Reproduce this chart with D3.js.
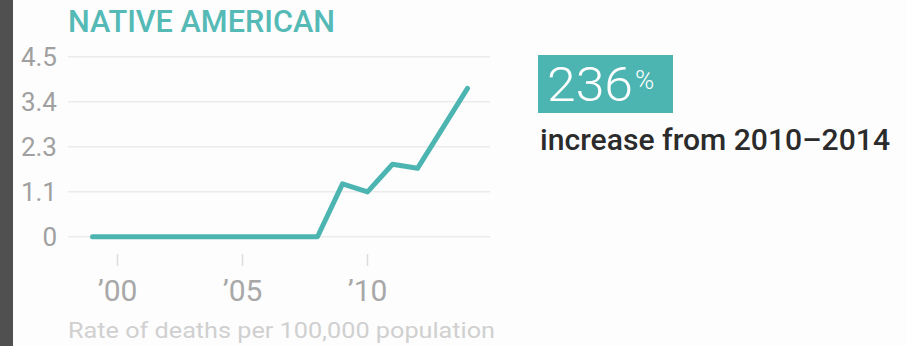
<!DOCTYPE html>
<html>
<head>
<meta charset="utf-8">
<script src="https://cdn.jsdelivr.net/npm/d3@7"></script>
<style>
  html, body { margin: 0; padding: 0; background: #fdfdfd; }
  svg { display: block; }
</style>
</head>
<body>
<svg id="chart" width="907" height="346"></svg>
<script>
// ---- data ----
const years = [1999, 2000, 2001, 2002, 2003, 2004, 2005, 2006, 2007, 2008, 2009, 2010, 2011, 2012, 2013, 2014];
const rates = [0, 0, 0, 0, 0, 0, 0, 0, 0, 0, 1.32, 1.12, 1.81, 1.71, 2.71, 3.71];
const yTickValues = [0, 1.125, 2.25, 3.375, 4.5];
const yTickLabels = ["0", "1.1", "2.3", "3.4", "4.5"];
const xTickValues = [2000, 2005, 2010];
const xTickLabels = ["\u201900", "\u201905", "\u201910"];
const title = "NATIVE AMERICAN";
const subtitle = "Rate of deaths per 100,000 population";
const bigNumber = "236";
const bigUnit = "%";
const bigCaption = "increase from 2010\u20132014";

const teal = "#4db5b1";
const svg = d3.select("#chart");

// background + left dark strip
svg.append("rect").attr("x", 0).attr("y", 0).attr("width", 907).attr("height", 346).attr("fill", "#fdfdfd");
svg.append("rect").attr("x", 0).attr("y", 0).attr("width", 13).attr("height", 346).attr("fill", "#505050");

const x = d3.scaleLinear().domain([1999, 2014]).range([92.5, 467.5]);
const y = d3.scaleLinear().domain([0, 4.5]).range([236.7, 56.7]);

// gridlines
svg.append("g").selectAll("line").data(yTickValues).join("line")
  .attr("x1", 68).attr("x2", 490)
  .attr("y1", d => y(d)).attr("y2", d => y(d))
  .attr("stroke", "#ebebeb").attr("stroke-width", 1.5);

// y labels
svg.append("g").selectAll("text").data(yTickValues).join("text")
  .attr("x", 57).attr("y", d => y(d)).attr("dy", "0.35em")
  .attr("text-anchor", "end")
  .attr("font-family", "Roboto, sans-serif").attr("font-size", 26)
  .attr("fill", "#a0a0a0")
  .text((d, i) => yTickLabels[i]);

// x ticks
const xg = svg.append("g");
xg.selectAll("line").data(xTickValues).join("line")
  .attr("x1", d => x(d)).attr("x2", d => x(d))
  .attr("y1", 254).attr("y2", 266)
  .attr("stroke", "#dddddd").attr("stroke-width", 1.5);
xg.selectAll("text").data(xTickValues).join("text")
  .attr("x", d => x(d)).attr("y", 301)
  .attr("text-anchor", "middle")
  .attr("font-family", "Roboto, sans-serif").attr("font-size", 30)
  .attr("fill", "#a8a8a8")
  .text((d, i) => xTickLabels[i]);

// line
const line = d3.line().x((d, i) => x(years[i])).y(d => y(d));
svg.append("path").datum(rates)
  .attr("d", line)
  .attr("fill", "none").attr("stroke", teal).attr("stroke-width", 5)
  .attr("stroke-linejoin", "round").attr("stroke-linecap", "round");

// title
svg.append("text").attr("x", 68).attr("y", 32)
  .attr("font-family", "Roboto, sans-serif").attr("font-weight", 500).attr("font-size", 31)
  .attr("textLength", 267).attr("lengthAdjust", "spacingAndGlyphs")
  .attr("fill", "#55bab6").text(title);

// subtitle
svg.append("text").attr("x", 68).attr("y", 338)
  .attr("font-family", "Roboto, sans-serif").attr("font-size", 22)
  .attr("textLength", 427).attr("lengthAdjust", "spacingAndGlyphs")
  .attr("fill", "#d0d0d0").text(subtitle);

// callout box
svg.append("rect").attr("x", 538).attr("y", 55).attr("width", 135).attr("height", 58).attr("fill", teal);
svg.append("text").attr("x", 547).attr("y", 101)
  .attr("font-family", "Roboto, sans-serif").attr("font-weight", 300).attr("font-size", 49)
  .attr("textLength", 86).attr("lengthAdjust", "spacingAndGlyphs")
  .attr("fill", "#ffffff").text(bigNumber);
svg.append("text").attr("x", 635).attr("y", 89)
  .attr("font-family", "Roboto, sans-serif").attr("font-weight", 300).attr("font-size", 26)
  .attr("fill", "#ffffff").text(bigUnit);
svg.append("text").attr("x", 540).attr("y", 150)
  .attr("font-family", "Roboto, sans-serif").attr("font-weight", 500).attr("font-size", 29)
  .attr("textLength", 350).attr("lengthAdjust", "spacingAndGlyphs")
  .attr("fill", "#2b2b2b").text(bigCaption);
</script>
</body>
</html>
